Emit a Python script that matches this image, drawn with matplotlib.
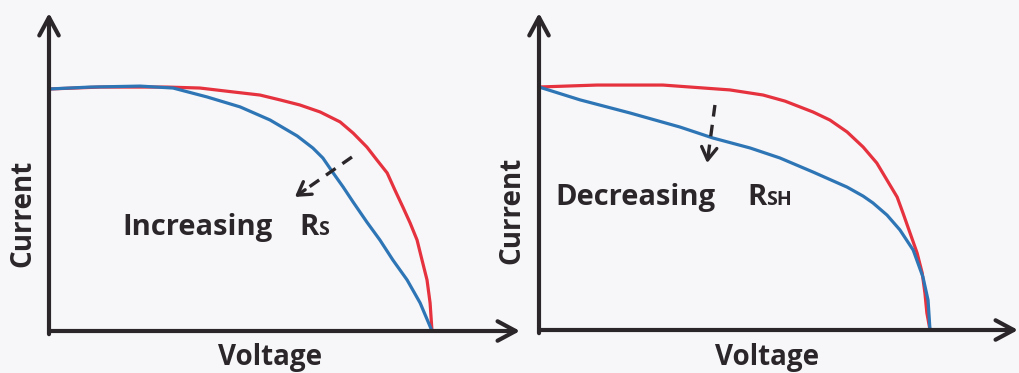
import matplotlib
matplotlib.use('Agg')
import matplotlib.pyplot as plt

# normalised voltage (V/Voc) and current (I/Isc)
rs_ref_v = [0, 0.133, 0.308, 0.394, 0.480, 0.551, 0.603, 0.655, 0.708, 0.760, 0.794,
            0.830, 0.856, 0.883, 0.903, 0.924, 0.943, 0.961, 0.974, 0.987, 0.995, 1.0]
rs_ref_i = [1.0, 1.008, 1.008, 1.004, 0.988, 0.975, 0.955, 0.934, 0.905, 0.864, 0.818,
            0.760, 0.707, 0.653, 0.583, 0.512, 0.446, 0.376, 0.293, 0.211, 0.116, 0.0]
rs_high_v = [0, 0.107, 0.238, 0.324, 0.413, 0.499, 0.577, 0.648, 0.689, 0.715, 0.742,
             0.768, 0.794, 0.830, 0.864, 0.898, 0.935, 0.969, 1.0]
rs_high_i = [1.0, 1.008, 1.012, 1.004, 0.967, 0.926, 0.872, 0.806, 0.756, 0.715, 0.653,
             0.595, 0.533, 0.450, 0.376, 0.293, 0.211, 0.116, 0.0]

rsh_ref_v = [0, 0.148, 0.317, 0.488, 0.573, 0.629, 0.701, 0.744, 0.788, 0.829, 0.864,
             0.890, 0.916, 0.931, 0.949, 0.967, 0.980, 0.987, 0.992, 1.0]
rsh_ref_i = [1.0, 1.008, 1.008, 0.988, 0.967, 0.942, 0.897, 0.864, 0.815, 0.753, 0.687,
             0.617, 0.547, 0.481, 0.399, 0.317, 0.235, 0.152, 0.070, 0.0]
rsh_low_v = [0, 0.105, 0.233, 0.361, 0.445, 0.540, 0.616, 0.701, 0.788, 0.829, 0.854,
             0.890, 0.923, 0.957, 0.982, 0.995, 1.0]
rsh_low_i = [1.0, 0.947, 0.893, 0.835, 0.790, 0.749, 0.708, 0.650, 0.588, 0.551, 0.523,
             0.473, 0.412, 0.329, 0.218, 0.123, 0.0]

RED = '#e5323e'
BLUE = '#2e75b6'
INK = '#2b2629'
BG = '#f7f7f9'
FONT = 'Open Sans'

W, H = 1020, 373
fig = plt.figure(figsize=(W / 100, H / 100), dpi=100, facecolor=BG)


def px(x, y):
    return x / W, 1 - y / H


def make_axes(x0, x1, ytop, ybot, voc_px, isc_px):
    ax = fig.add_axes([x0 / W, 1 - ybot / H, (x1 - x0) / W, (ybot - ytop) / H])
    ax.set_xlim(0, (x1 - x0) / (voc_px - x0))
    ax.set_ylim(0, (ybot - ytop) / (ybot - isc_px))
    ax.set_facecolor('none')
    for s in ax.spines.values():
        s.set_visible(False)
    ax.set_xticks([])
    ax.set_yticks([])
    head = dict(arrowstyle='->,head_length=1.3,head_width=0.7', lw=3, color=INK,
                shrinkA=0, shrinkB=0, mutation_scale=10)
    ax.annotate('', xy=(0, 1), xytext=(0, -0.01), xycoords='axes fraction', arrowprops=head)
    ax.annotate('', xy=(1, 0), xytext=(0, 0), xycoords='axes fraction', arrowprops=head)
    return ax


def dashed_arrow(ax, tail, tip):
    frac = 0.82
    mid = (tail[0] + (tip[0] - tail[0]) * frac, tail[1] + (tip[1] - tail[1]) * frac)
    ax.plot([tail[0], mid[0]], [tail[1], mid[1]], color=INK, lw=2.4, ls=(0, (3.5, 2.5)),
            solid_capstyle='butt', dash_capstyle='butt')
    ax.annotate('', xy=tip, xytext=mid,
                arrowprops=dict(arrowstyle='->,head_length=0.9,head_width=0.55', lw=2.4,
                                color=INK, shrinkA=0, shrinkB=0, mutation_scale=10))


line = dict(lw=2.3, solid_joinstyle='round', solid_capstyle='round')

ax1 = make_axes(49, 520, 13, 331, 432, 89)
ax1.plot(rs_ref_v, rs_ref_i, color=RED, **line)
ax1.plot(rs_high_v, rs_high_i, color=BLUE, **line)
dashed_arrow(ax1, (0.791, 0.719), (0.642, 0.554))

ax2 = make_axes(539, 1018, 13, 330, 930, 87)
ax2.plot(rsh_ref_v, rsh_ref_i, color=RED, **line)
ax2.plot(rsh_low_v, rsh_low_i, color=BLUE, **line)
dashed_arrow(ax2, (0.450, 0.926), (0.430, 0.687))

txt = dict(family=FONT, weight='bold', color=INK)

# axis titles
fig.text(*px(270, 365), 'Voltage', fontsize=20, ha='center', va='baseline', **txt)
fig.text(*px(767, 365), 'Voltage', fontsize=20, ha='center', va='baseline', **txt)
fig.text(*px(23, 213), 'Current', fontsize=20, rotation=90, ha='center', va='center', **txt)
fig.text(*px(512, 210), 'Current', fontsize=20, rotation=90, ha='center', va='center', **txt)

# annotations with small-cap subscripts
labels = [(122, 299, 235, 'Increasing', 'S'), (555, 747, 205, 'Decreasing', 'SH')]
fig.canvas.draw()
renderer = fig.canvas.get_renderer()
for xw, xr, base, word, sub in labels:
    fig.text(*px(xw, base), word, fontsize=21, ha='left', va='baseline', **txt)
    r = fig.text(*px(xr, base), 'R', fontsize=21, ha='left', va='baseline', **txt)
    bb = r.get_window_extent(renderer)
    fig.text(bb.x1 / W, 1 - base / H, sub, fontsize=14, ha='left', va='baseline', **txt)

fig.savefig('out.png', dpi=100, facecolor=BG)
